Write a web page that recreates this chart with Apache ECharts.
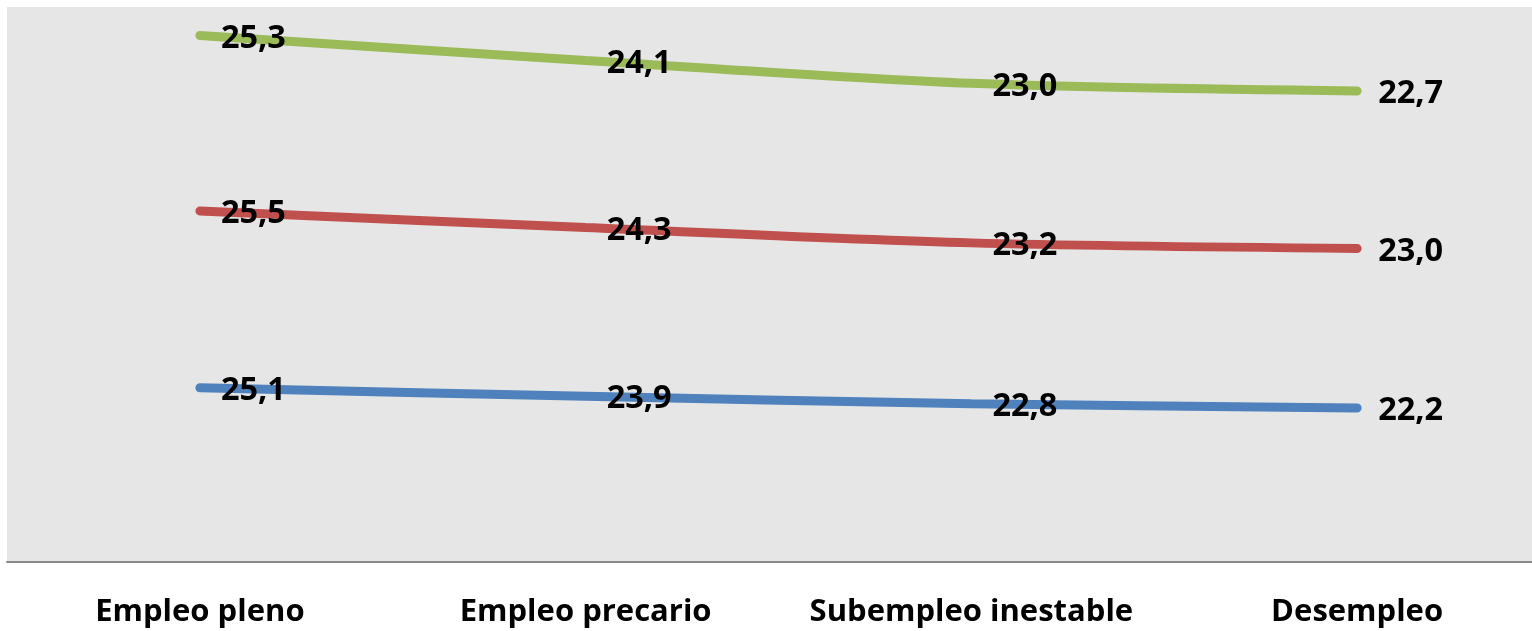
<!DOCTYPE html>
<html>
<head>
<meta charset="utf-8">
<script src="https://cdn.jsdelivr.net/npm/echarts@6/dist/echarts.min.js"></script>
<style>
html,body{margin:0;padding:0;background:#fff;}
#c{width:1532px;height:631px;}
</style>
</head>
<body>
<div id="c"></div>
<script>
const categories = ['Empleo pleno', 'Empleo precario', 'Subempleo inestable', 'Desempleo'];
const serieAzul = [25.1, 23.9, 22.8, 22.2];
const serieRoja = [25.5, 24.3, 23.2, 23.0];
const serieVerde = [25.3, 24.1, 23.0, 22.7];
const yMin = 0;
const yMax = 80;

const chart = echarts.init(document.getElementById('c'));
const fmt = p => p.value.toFixed(1).replace('.', ',');
function mk(name, data, color) {
  return {
    name: name,
    type: 'line',
    stack: 'total',
    data: data,
    smooth: 0.3,
    symbol: 'circle',
    symbolSize: 0,
    lineStyle: { color: color, width: 9, cap: 'round' },
    itemStyle: { color: color },
    label: {
      show: true,
      position: 'right',
      distance: 21,
      offset: [0, 3],
      formatter: fmt,
      color: '#000',
      fontFamily: 'Open Sans',
      fontWeight: 'bold',
      fontSize: 32.5
    },
    emphasis: { disabled: true },
    z: 2
  };
}
chart.setOption({
  animation: false,
  backgroundColor: '#ffffff',
  grid: {
    left: 7, top: 7, width: 1543, height: 555,
    outerBoundsMode: 'none',
    containLabel: false,
    show: true, backgroundColor: '#e6e6e6', borderWidth: 0
  },
  xAxis: {
    type: 'category',
    data: categories,
    boundaryGap: true,
    axisLine: { show: true, lineStyle: { color: '#898989', width: 2 } },
    axisTick: { show: false },
    axisLabel: {
      interval: 0,
      color: '#000',
      fontFamily: 'Open Sans',
      fontWeight: 'bold',
      fontSize: 31,
      margin: 35
    },
    splitLine: { show: false }
  },
  yAxis: {
    type: 'value',
    min: yMin,
    max: yMax,
    show: false,
    splitLine: { show: false }
  },
  series: [
    mk('Serie 1', serieAzul, '#4F81BD'),
    mk('Serie 2', serieRoja, '#C0504D'),
    mk('Serie 3', serieVerde, '#9BBB59')
  ]
});
</script>
</body>
</html>
